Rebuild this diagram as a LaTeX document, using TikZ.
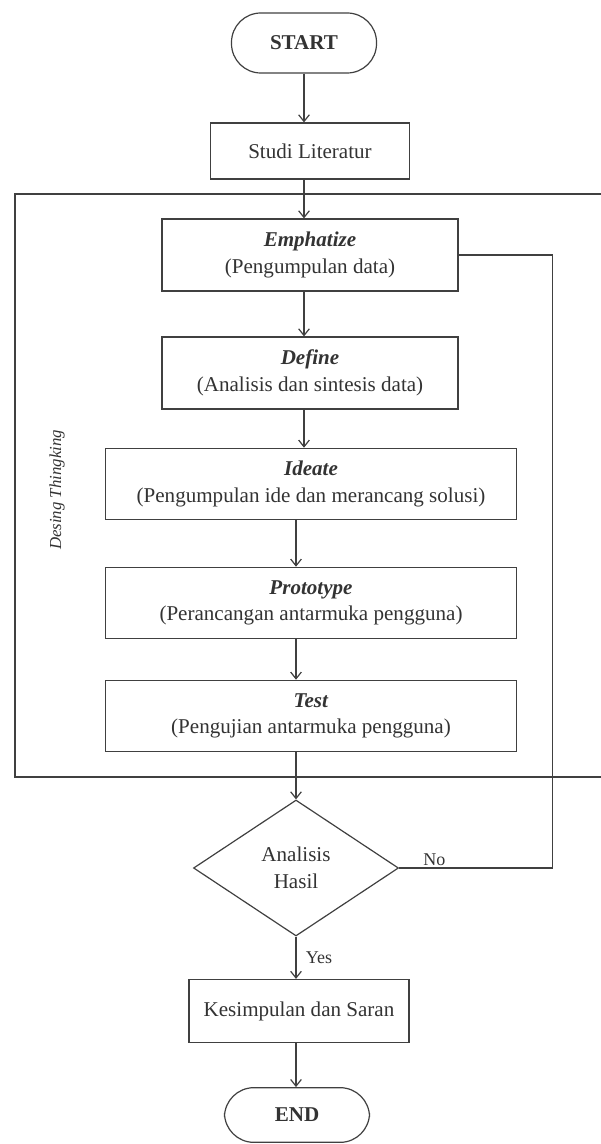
\documentclass[tikz,border=0pt]{standalone}
\usepackage{fontspec}
\setmainfont{Liberation Serif}
\usetikzlibrary{shapes.geometric,arrows.meta}
\tikzset{
  box/.style={draw=black!75, line width=0.9pt, align=center, inner sep=2pt,
    text=black!80, font=\fontsize{15.8}{20}\selectfont},
  phase/.style={box, minimum width=222pt, minimum height=54pt},
  widephase/.style={box, minimum width=308pt, minimum height=53.5pt},
  terminal/.style={box, rounded corners=22pt, minimum width=108.75pt,
    minimum height=45pt, font=\fontsize{15.8}{20}\selectfont\bfseries},
  decision/.style={box, diamond, minimum width=153.75pt, minimum height=102pt, inner sep=0pt},
  arr/.style={draw=black!75, line width=0.9pt, -{Straight Barb[length=5pt,width=8pt]}},
  lbl/.style={text=black!80, inner sep=1pt, font=\fontsize{13.5}{16}\selectfont},
}
\begin{document}
\begin{tikzpicture}[x=0.75pt, y=-0.75pt]
  \useasboundingbox (0,0) rectangle (600,1144);
  % frame of the design thinking stage
  \draw[draw=black!75, line width=0.9pt] (15,194) rectangle (606,777);
  \node[lbl, rotate=90, font=\fontsize{12.6}{15}\selectfont\itshape] (dt) at (57,490) {Desing Thingking};

  \node[terminal] (start) at (304,43) {START};
  \node[box, minimum width=149.25pt, minimum height=42pt] (studi) at (310,151) {Studi Literatur};
  \node[phase] (emph) at (310,255) {\textbf{\textit{Emphatize}}\\(Pengumpulan data)};
  \node[phase] (define) at (310,373) {\textbf{\textit{Define}}\\(Analisis dan sintesis data)};
  \node[widephase] (ideate) at (311,484) {\textbf{\textit{Ideate}}\\(Pengumpulan ide dan merancang solusi)};
  \node[widephase] (proto) at (311,603) {\textbf{\textit{Prototype}}\\(Perancangan antarmuka pengguna)};
  \node[widephase] (test) at (311,716) {\textbf{\textit{Test}}\\(Pengujian antarmuka pengguna)};
  \node[decision] (hasil) at (296,868) {Analisis\\Hasil};
  \node[box, minimum width=165pt, minimum height=47.25pt] (kesim) at (299,1011) {Kesimpulan dan Saran};
  \node[terminal, minimum height=41pt] (end) at (297,1115) {END};

  \draw[arr] (start.south) -- (start.south |- studi.north);
  \draw[arr] (studi.south -| start.south) -- (emph.north -| start.south);
  \draw[arr] (emph.south -| start.south) -- (define.north -| start.south);
  \draw[arr] (define.south -| start.south) -- (ideate.north -| start.south);
  \draw[arr] (hasil.north |- ideate.south) -- (hasil.north |- proto.north);
  \draw[arr] (hasil.north |- proto.south) -- (hasil.north |- test.north);
  \draw[arr] (hasil.north |- test.south) -- (hasil.north);
  \draw[arr] (hasil.south) -- node[lbl, right, xshift=6pt] (yes) {Yes} (hasil.south |- kesim.north);
  \draw[arr] (kesim.south -| hasil.south) -- (end.north -| hasil.south);
  \draw[draw=black!75, line width=0.9pt] (hasil.east) -- node[lbl, above, pos=0.23] (no) {No} ++(153,0) |- (emph.east);
\end{tikzpicture}
\end{document}
